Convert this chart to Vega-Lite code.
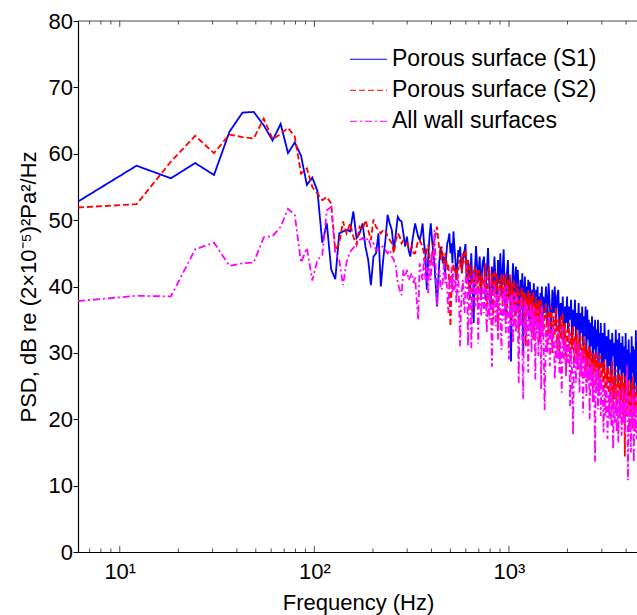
{
"$schema": "https://vega.github.io/schema/vega-lite/v6.json",
"width": 560, "height": 531,
"autosize": "none",
"padding": {"left": 78, "top": 21, "right": 0, "bottom": 63},
"background": "white",
"config": {
 "font": "Liberation Sans",
 "view": {"stroke": null},
 "axis": {"grid": false, "domainColor": "black", "domainWidth": 1.2, "tickColor": "black", "tickWidth": 1, "labelColor": "black", "titleColor": "black", "labelFont": "Liberation Sans", "titleFont": "Liberation Sans", "titleFontWeight": "normal", "labelFontSize": 22, "titleFontSize": 22},
 "legend": {"labelFont": "Liberation Sans", "labelFontSize": 23, "labelColor": "black", "labelLimit": 0}
},
"datasets": {
 "xt": [{"t":7,"m":0},{"t":8,"m":0},{"t":9,"m":0},{"t":10,"m":1},{"t":20,"m":0},{"t":30,"m":0},{"t":40,"m":0},{"t":50,"m":0},{"t":60,"m":0},{"t":70,"m":0},{"t":80,"m":0},{"t":90,"m":0},{"t":100,"m":1},{"t":200,"m":0},{"t":300,"m":0},{"t":400,"m":0},{"t":500,"m":0},{"t":600,"m":0},{"t":700,"m":0},{"t":800,"m":0},{"t":900,"m":0},{"t":1000,"m":1},{"t":2000,"m":0},{"t":3000,"m":0},{"t":4000,"m":0}],
 "psd": [
{"f":6.1,"a":52.8,"b":51.9,"c":37.8},
{"f":12.2,"a":58.2,"b":52.4,"c":38.6},
{"f":18.3,"a":56.3,"b":58.8,"c":38.5},
{"f":24.4,"a":58.6,"b":62.7,"c":45.6},
{"f":30.5,"a":56.8,"b":60.1,"c":46.6},
{"f":36.6,"a":63.3,"b":62.9,"c":43.1},
{"f":42.7,"a":66.2,"b":62.5,"c":43.5},
{"f":48.8,"a":66.3,"b":62.3,"c":43.6},
{"f":54.9,"a":64.3,"b":65.3,"c":47.4},
{"f":61.0,"a":62.0,"b":62.2,"c":47.6},
{"f":67.1,"a":64.5,"b":63.0,"c":49.0},
{"f":73.2,"a":60.1,"b":63.9,"c":51.7},
{"f":79.3,"a":61.7,"b":62.6,"c":50.8},
{"f":85.4,"a":59.7,"b":57.0,"c":43.6},
{"f":91.5,"a":55.3,"b":57.8,"c":45.8},
{"f":97.6,"a":56.4,"b":55.0,"c":40.9},
{"f":103.7,"a":54.4,"b":54.0,"c":44.0},
{"f":109.8,"a":46.6,"b":53.0,"c":44.7},
{"f":115.9,"a":49.5,"b":53.5,"c":51.5},
{"f":122.0,"a":42.6,"b":52.5,"c":52.0},
{"f":128.1,"a":41.1,"b":45.5,"c":45.0},
{"f":134.2,"a":48.0,"b":46.5,"c":44.0},
{"f":140.3,"a":48.3,"b":49.8,"c":40.2},
{"f":146.4,"a":48.5,"b":48.0,"c":43.7},
{"f":152.5,"a":48.3,"b":49.5,"c":45.2},
{"f":158.6,"a":51.3,"b":47.5,"c":45.8},
{"f":164.7,"a":47.3,"b":46.3,"c":46.3},
{"f":170.8,"a":48.0,"b":49.0,"c":47.0},
{"f":176.9,"a":49.5,"b":48.5,"c":47.3},
{"f":183.0,"a":46.0,"b":50.0,"c":46.8},
{"f":189.1,"a":44.0,"b":48.5,"c":47.3},
{"f":195.2,"a":40.2,"b":47.0,"c":46.0},
{"f":201.3,"a":44.5,"b":50.1,"c":46.5},
{"f":207.4,"a":45.0,"b":49.0,"c":45.5},
{"f":213.5,"a":48.0,"b":48.5,"c":45.5},
{"f":219.6,"a":40.0,"b":48.0,"c":46.0},
{"f":225.7,"a":44.0,"b":48.5,"c":46.0},
{"f":231.8,"a":47.0,"b":48.5,"c":45.5},
{"f":237.9,"a":50.8,"b":47.5,"c":45.0},
{"f":244.0,"a":49.5,"b":47.0,"c":45.5},
{"f":250.1,"a":48.5,"b":46.5,"c":44.5},
{"f":256.2,"a":45.5,"b":45.0,"c":44.0},
{"f":262.3,"a":48.0,"b":47.0,"c":43.0},
{"f":268.4,"a":50.5,"b":48.0,"c":40.5},
{"f":274.5,"a":50.0,"b":47.5,"c":39.5},
{"f":280.6,"a":49.8,"b":46.5,"c":38.7},
{"f":286.7,"a":48.0,"b":47.0,"c":42.5},
{"f":292.8,"a":46.0,"b":47.0,"c":41.5},
{"f":298.9,"a":47.5,"b":46.5,"c":42.5},
{"f":305.0,"a":45.5,"b":46.0,"c":41.0},
{"f":311.1,"a":44.5,"b":45.5,"c":41.5},
{"f":317.2,"a":46.5,"b":46.0,"c":42.0},
{"f":323.3,"a":48.0,"b":45.0,"c":40.5},
{"f":329.4,"a":49.5,"b":45.0,"c":41.5},
{"f":335.5,"a":48.5,"b":46.0,"c":38.0},
{"f":341.6,"a":47.5,"b":47.0,"c":35.0},
{"f":347.7,"a":47.0,"b":47.0,"c":43.5},
{"f":353.8,"a":48.0,"b":46.5,"c":42.0},
{"f":359.9,"a":49.5,"b":46.0,"c":41.0},
{"f":366.0,"a":46.5,"b":45.0,"c":44.5},
{"f":372.1,"a":45.0,"b":44.0,"c":41.0},
{"f":378.2,"a":39.5,"b":45.5,"c":43.0},
{"f":384.3,"a":44.0,"b":46.3,"c":39.0},
{"f":390.4,"a":47.5,"b":44.5,"c":44.0},
{"f":396.5,"a":49.5,"b":43.5,"c":41.0},
{"f":402.6,"a":47.0,"b":45.0,"c":45.0},
{"f":408.7,"a":45.0,"b":46.0,"c":43.0},
{"f":414.8,"a":43.0,"b":47.3,"c":48.5},
{"f":420.9,"a":40.0,"b":48.0,"c":42.0},
{"f":427.0,"a":37.0,"b":49.0,"c":37.0},
{"f":433.1,"a":41.0,"b":47.0,"c":40.0},
{"f":439.2,"a":44.0,"b":45.5,"c":42.5},
{"f":445.3,"a":46.0,"b":44.0,"c":40.0},
{"f":451.4,"a":45.0,"b":46.0,"c":39.5},
{"f":457.5,"a":43.5,"b":44.5,"c":41.0},
{"f":463.6,"a":44.5,"b":43.0,"c":43.5},
{"f":469.7,"a":42.0,"b":45.0,"c":40.5},
{"f":475.8,"a":44.5,"b":44.0,"c":42.0},
{"f":481.9,"a":46.5,"b":42.5,"c":39.0},
{"f":488.0,"a":47.0,"b":43.5,"c":36.0},
{"f":494.1,"a":48.0,"b":40.0,"c":41.0},
{"f":500.2,"a":45.0,"b":34.0,"c":40.0},
{"f":506.3,"a":46.5,"b":39.0,"c":43.0},
{"f":512.4,"a":43.5,"b":42.0,"c":39.0},
{"f":518.5,"a":48.3,"b":43.5,"c":42.0},
{"f":524.6,"a":46.0,"b":42.0,"c":39.5},
{"f":530.7,"a":44.0,"b":42.5,"c":41.0},
{"f":536.8,"a":41.0,"b":41.0,"c":37.5},
{"f":542.9,"a":43.0,"b":43.0,"c":40.5},
{"f":549.0,"a":45.5,"b":42.5,"c":42.0},
{"f":555.1,"a":44.5,"b":44.0,"c":36.5},
{"f":561.2,"a":46.0,"b":43.0,"c":31.0},
{"f":567.3,"a":43.5,"b":44.5,"c":37.0},
{"f":573.4,"a":42.0,"b":42.0,"c":39.5},
{"f":579.5,"a":44.0,"b":45.0,"c":41.0},
{"f":585.6,"a":45.0,"b":43.5,"c":38.0},
{"f":591.7,"a":45.5,"b":45.0,"c":36.0},
{"f":597.8,"a":46.4,"b":45.5,"c":40.0},
{"f":603.9,"a":42.0,"b":43.0,"c":43.2},
{"f":610.0,"a":40.5,"b":41.0,"c":40.0},
{"f":616.1,"a":44.0,"b":44.0,"c":31.0},
{"f":622.2,"a":43.0,"b":39.5,"c":38.5},
{"f":628.3,"a":38.0,"b":42.0,"c":41.5},
{"f":634.4,"a":42.5,"b":43.2,"c":39.0},
{"f":640.5,"a":45.0,"b":41.0,"c":30.7},
{"f":646.6,"a":41.0,"b":36.0,"c":36.0},
{"f":652.7,"a":39.0,"b":40.5,"c":40.0},
{"f":658.8,"a":34.5,"b":42.0,"c":42.0},
{"f":664.9,"a":40.0,"b":43.0,"c":38.5},
{"f":671.0,"a":43.5,"b":41.5,"c":37.0},
{"f":677.1,"a":46.1,"b":40.0,"c":40.5},
{"f":683.2,"a":44.0,"b":42.5,"c":41.5},
{"f":689.3,"a":42.0,"b":37.5,"c":38.0},
{"f":695.4,"a":40.5,"b":41.0,"c":31.4},
{"f":701.5,"a":43.0,"b":42.5,"c":37.5},
{"f":707.6,"a":44.5,"b":40.0,"c":40.0},
{"f":713.7,"a":41.0,"b":41.5,"c":39.0},
{"f":719.8,"a":38.0,"b":39.0,"c":35.5},
{"f":725.9,"a":42.0,"b":42.0,"c":38.5},
{"f":732.0,"a":43.5,"b":41.0,"c":40.5},
{"f":744.2,"a":44.5,"b":40.0,"c":36.0},
{"f":756.4,"a":38.0,"b":43.5,"c":41.5},
{"f":768.6,"a":42.0,"b":36.5,"c":33.0},
{"f":780.8,"a":45.8,"b":41.0,"c":39.5},
{"f":793.0,"a":40.0,"b":43.0,"c":35.0},
{"f":805.2,"a":36.5,"b":38.0,"c":41.0},
{"f":817.4,"a":43.0,"b":42.0,"c":27.9},
{"f":829.6,"a":39.0,"b":35.0,"c":37.5},
{"f":841.8,"a":44.5,"b":42.5,"c":40.5},
{"f":854.0,"a":41.0,"b":39.0,"c":34.0},
{"f":866.2,"a":37.0,"b":42.0,"c":39.0},
{"f":878.4,"a":44.0,"b":33.5,"c":32.0},
{"f":890.6,"a":40.5,"b":41.0,"c":40.0},
{"f":902.8,"a":45.0,"b":38.5,"c":36.0},
{"f":915.0,"a":38.5,"b":42.0,"c":30.5},
{"f":927.2,"a":42.5,"b":37.0,"c":39.5},
{"f":939.4,"a":45.6,"b":41.5,"c":35.0},
{"f":951.6,"a":39.0,"b":39.0,"c":40.0},
{"f":963.8,"a":35.0,"b":42.0,"c":33.0},
{"f":976.0,"a":42.0,"b":36.0,"c":40.2},
{"f":988.2,"a":44.0,"b":41.0,"c":36.5},
{"f":1000.4,"a":38.0,"b":38.0,"c":29.0},
{"f":1012.6,"a":41.5,"b":41.8,"c":38.5},
{"f":1024.8,"a":28.7,"b":35.0,"c":34.0},
{"f":1037.0,"a":40.0,"b":40.5,"c":39.0},
{"f":1049.2,"a":43.5,"b":37.0,"c":31.5},
{"f":1061.4,"a":37.5,"b":41.0,"c":37.0},
{"f":1073.6,"a":41.0,"b":34.0,"c":39.0},
{"f":1085.8,"a":43.0,"b":40.0,"c":33.0},
{"f":1098.0,"a":36.0,"b":37.5,"c":38.5},
{"f":1110.2,"a":42.5,"b":40.5,"c":35.5},
{"f":1122.4,"a":39.0,"b":33.0,"c":25.5},
{"f":1134.6,"a":34.0,"b":39.0,"c":37.0},
{"f":1146.8,"a":41.0,"b":36.5,"c":34.0},
{"f":1159.0,"a":38.0,"b":40.0,"c":38.5},
{"f":1171.2,"a":42.0,"b":37.0,"c":31.0},
{"f":1183.4,"a":30.0,"b":39.5,"c":23.1},
{"f":1195.6,"a":39.5,"b":35.0,"c":36.0},
{"f":1207.8,"a":41.5,"b":39.0,"c":38.0},
{"f":1220.0,"a":36.0,"b":31.0,"c":32.5},
{"f":1232.2,"a":40.0,"b":38.5,"c":37.5},
{"f":1244.4,"a":37.5,"b":35.5,"c":34.0},
{"f":1256.6,"a":41.0,"b":39.5,"c":27.0},
{"f":1268.8,"a":35.0,"b":36.0,"c":36.5},
{"f":1281.0,"a":40.7,"b":39.0,"c":33.5},
{"f":1293.2,"a":38.0,"b":34.0,"c":37.5},
{"f":1305.4,"a":33.0,"b":38.5,"c":30.0},
{"f":1317.6,"a":39.5,"b":36.0,"c":36.0},
{"f":1329.8,"a":36.5,"b":39.2,"c":32.0},
{"f":1342.0,"a":40.5,"b":32.0,"c":37.0},
{"f":1354.2,"a":37.0,"b":37.5,"c":34.5},
{"f":1366.4,"a":34.0,"b":35.0,"c":26.0},
{"f":1378.6,"a":39.5,"b":38.5,"c":35.5},
{"f":1390.8,"a":36.0,"b":33.5,"c":33.0},
{"f":1403.0,"a":40.0,"b":37.5,"c":36.5},
{"f":1415.2,"a":35.5,"b":34.5,"c":29.5},
{"f":1427.4,"a":38.5,"b":38.0,"c":35.0},
{"f":1439.6,"a":32.0,"b":31.5,"c":32.5},
{"f":1451.8,"a":39.0,"b":36.0,"c":36.0},
{"f":1464.0,"a":36.5,"b":38.0,"c":24.5},
{"f":1476.2,"a":40.0,"b":34.0,"c":37.0},
{"f":1488.4,"a":35.0,"b":36.5,"c":33.0},
{"f":1500.6,"a":38.5,"b":32.5,"c":35.5},
{"f":1525.0,"a":36.0,"b":35.0,"c":21.4},
{"f":1549.4,"a":40.0,"b":37.5,"c":34.0},
{"f":1573.8,"a":34.5,"b":31.0,"c":30.0},
{"f":1598.2,"a":40.5,"b":36.5,"c":35.5},
{"f":1622.6,"a":37.0,"b":33.0,"c":28.0},
{"f":1647.0,"a":33.0,"b":37.0,"c":33.5},
{"f":1671.4,"a":39.5,"b":30.0,"c":30.5},
{"f":1695.8,"a":36.0,"b":35.5,"c":34.5},
{"f":1720.2,"a":40.0,"b":32.5,"c":26.0},
{"f":1744.6,"a":34.0,"b":36.8,"c":32.0},
{"f":1769.0,"a":38.5,"b":31.0,"c":29.0},
{"f":1793.4,"a":39.5,"b":35.0,"c":33.5},
{"f":1817.8,"a":33.0,"b":29.0,"c":27.0},
{"f":1842.2,"a":37.5,"b":35.5,"c":31.5},
{"f":1866.6,"a":35.0,"b":32.0,"c":24.0},
{"f":1891.0,"a":38.5,"b":36.0,"c":34.0},
{"f":1915.4,"a":31.0,"b":30.5,"c":29.0},
{"f":1939.8,"a":37.0,"b":34.5,"c":32.0},
{"f":1964.2,"a":34.5,"b":27.0,"c":26.5},
{"f":1988.6,"a":38.5,"b":33.5,"c":31.0},
{"f":2013.0,"a":33.0,"b":30.0,"c":28.5},
{"f":2037.4,"a":37.0,"b":34.5,"c":33.0},
{"f":2061.8,"a":35.0,"b":29.0,"c":22.0},
{"f":2086.2,"a":38.0,"b":33.0,"c":30.5},
{"f":2110.6,"a":31.5,"b":30.5,"c":27.0},
{"f":2135.0,"a":36.5,"b":34.0,"c":17.6},
{"f":2159.4,"a":34.0,"b":28.5,"c":29.5},
{"f":2183.8,"a":38.0,"b":32.5,"c":32.0},
{"f":2208.2,"a":32.0,"b":29.0,"c":25.5},
{"f":2232.6,"a":36.0,"b":33.5,"c":30.0},
{"f":2257.0,"a":33.5,"b":27.5,"c":27.5},
{"f":2281.4,"a":37.5,"b":32.0,"c":31.5},
{"f":2305.8,"a":30.5,"b":29.5,"c":24.0},
{"f":2330.2,"a":36.0,"b":33.0,"c":30.0},
{"f":2354.6,"a":33.0,"b":26.5,"c":27.0},
{"f":2379.0,"a":37.0,"b":31.0,"c":30.5},
{"f":2403.4,"a":31.0,"b":28.5,"c":21.0},
{"f":2427.8,"a":35.5,"b":32.5,"c":29.0},
{"f":2452.2,"a":32.5,"b":27.0,"c":26.0},
{"f":2476.6,"a":37.0,"b":31.5,"c":29.5},
{"f":2501.0,"a":30.0,"b":25.5,"c":23.5},
{"f":2525.4,"a":36.5,"b":30.5,"c":28.0},
{"f":2549.8,"a":32.0,"b":28.0,"c":25.5},
{"f":2574.2,"a":35.0,"b":31.0,"c":29.0},
{"f":2598.6,"a":29.5,"b":26.0,"c":20.0},
{"f":2623.0,"a":34.5,"b":30.5,"c":28.0},
{"f":2647.4,"a":31.0,"b":27.5,"c":25.0},
{"f":2671.8,"a":35.5,"b":30.0,"c":28.5},
{"f":2696.2,"a":28.5,"b":24.5,"c":22.5},
{"f":2720.6,"a":34.0,"b":29.5,"c":27.0},
{"f":2745.0,"a":30.5,"b":27.0,"c":24.5},
{"f":2769.4,"a":35.0,"b":30.0,"c":13.6},
{"f":2793.8,"a":29.0,"b":25.0,"c":27.5},
{"f":2818.2,"a":33.5,"b":29.0,"c":24.0},
{"f":2842.6,"a":31.0,"b":26.5,"c":28.0},
{"f":2867.0,"a":35.0,"b":30.0,"c":21.5},
{"f":2891.4,"a":27.5,"b":24.0,"c":26.5},
{"f":2915.8,"a":33.0,"b":28.5,"c":23.5},
{"f":2940.2,"a":30.0,"b":26.0,"c":27.5},
{"f":2964.6,"a":34.5,"b":29.5,"c":20.5},
{"f":2989.0,"a":28.0,"b":25.5,"c":26.0},
{"f":3025.6,"a":33.0,"b":28.5,"c":25.0},
{"f":3062.2,"a":27.0,"b":24.0,"c":18.0},
{"f":3098.8,"a":34.5,"b":29.0,"c":24.5},
{"f":3135.4,"a":29.0,"b":22.5,"c":20.5},
{"f":3172.0,"a":32.5,"b":27.5,"c":26.0},
{"f":3208.6,"a":26.0,"b":24.5,"c":17.0},
{"f":3245.2,"a":33.5,"b":28.0,"c":23.5},
{"f":3281.8,"a":28.0,"b":21.5,"c":20.0},
{"f":3318.4,"a":32.0,"b":27.0,"c":25.5},
{"f":3355.0,"a":25.5,"b":23.5,"c":19.0},
{"f":3391.6,"a":33.0,"b":28.8,"c":24.0},
{"f":3428.2,"a":29.5,"b":22.0,"c":15.5},
{"f":3464.8,"a":31.5,"b":26.5,"c":22.5},
{"f":3501.4,"a":24.5,"b":23.0,"c":19.5},
{"f":3538.0,"a":33.5,"b":27.5,"c":25.0},
{"f":3574.6,"a":28.0,"b":21.0,"c":18.0},
{"f":3611.2,"a":32.0,"b":26.0,"c":23.0},
{"f":3647.8,"a":25.0,"b":22.5,"c":16.5},
{"f":3684.4,"a":33.0,"b":27.0,"c":24.5},
{"f":3721.0,"a":27.5,"b":20.5,"c":20.0},
{"f":3757.6,"a":31.5,"b":26.5,"c":23.0},
{"f":3794.2,"a":24.0,"b":22.0,"c":17.5},
{"f":3830.8,"a":32.5,"b":27.0,"c":25.0},
{"f":3867.4,"a":27.0,"b":19.5,"c":19.5},
{"f":3904.0,"a":31.0,"b":25.5,"c":22.5},
{"f":3940.6,"a":24.0,"b":14.4,"c":18.0},
{"f":3977.2,"a":33.0,"b":26.5,"c":24.0},
{"f":4013.8,"a":26.5,"b":20.5,"c":20.5},
{"f":4050.4,"a":30.5,"b":25.0,"c":28.2},
{"f":4087.0,"a":23.5,"b":21.5,"c":10.8},
{"f":4123.6,"a":32.0,"b":26.0,"c":21.0},
{"f":4160.2,"a":26.0,"b":19.0,"c":17.5},
{"f":4196.8,"a":30.0,"b":24.5,"c":23.5},
{"f":4233.4,"a":23.0,"b":20.5,"c":15.0},
{"f":4270.0,"a":32.5,"b":25.5,"c":22.0},
{"f":4306.6,"a":27.0,"b":18.5,"c":19.0},
{"f":4343.2,"a":31.0,"b":26.5,"c":24.5},
{"f":4379.8,"a":22.5,"b":21.0,"c":13.5},
{"f":4416.4,"a":30.5,"b":24.0,"c":21.5},
{"f":4453.0,"a":25.5,"b":19.5,"c":18.0},
{"f":4489.6,"a":33.4,"b":25.0,"c":23.5},
{"f":4526.2,"a":24.0,"b":21.0,"c":17.0},
{"f":4562.8,"a":29.0,"b":23.5,"c":21.0},
{"f":4599.4,"a":32.0,"b":24.5,"c":22.5}
 ]
},
"layer": [
 {
  "data": {"name": "psd"},
  "mark": {"type": "line", "strokeWidth": 1.8, "clip": true},
  "encoding": {
   "x": {"field": "f", "type": "quantitative", "scale": {"type": "log", "domain": [6.1, 4604], "nice": false},
         "axis": {"orient": "bottom", "values": [10, 100, 1000], "ticks": false,
                  "labelExpr": "datum.value==10?'10¹':datum.value==100?'10²':datum.value==1000?'10³':''",
                  "title": "Frequency (Hz)", "labelPadding": 9, "titlePadding": 10, "labelOverlap": false, "labelFlush": false}},
   "y": {"field": "a", "type": "quantitative", "scale": {"domain": [0, 80], "nice": false},
         "axis": {"values": [0,10,20,30,40,50,60,70,80], "title": "PSD, dB re (2×10⁻⁵)²Pa²/Hz", "tickSize": 5, "labelPadding": 0.5, "titlePadding": 8}},
   "color": {"datum": "Porous surface (S1)", "type": "nominal",
             "scale": {"domain": ["Porous surface (S1)", "Porous surface (S2)", "All wall surfaces"], "range": ["#0000ff", "#ff0000", "#ff00ff"]},
             "legend": {"title": null, "orient": "none", "legendX": 271, "legendY": 23, "padding": 0, "symbolType": "stroke", "symbolSize": 1369, "symbolStrokeWidth": 1.2, "labelOffset": 4, "rowPadding": 0, "clipHeight": 30.5, "labelFontSize": 23, "labelLimit": 0}},
   "strokeDash": {"datum": "Porous surface (S1)", "type": "nominal",
             "scale": {"domain": ["Porous surface (S1)", "Porous surface (S2)", "All wall surfaces"], "range": [[1,0],[6,3],[7,3,2,3]]},
             "legend": {"title": null, "orient": "none", "legendX": 271, "legendY": 23, "padding": 0, "symbolType": "stroke", "symbolSize": 1369, "symbolStrokeWidth": 1.2, "labelOffset": 4, "rowPadding": 0, "clipHeight": 30.5, "labelFontSize": 23, "labelLimit": 0}}
  }
 },
 {
  "data": {"name": "psd"},
  "mark": {"type": "line", "strokeWidth": 1.8, "clip": true},
  "encoding": {
   "x": {"field": "f", "type": "quantitative", "scale": {"type": "log", "domain": [6.1, 4604], "nice": false}},
   "y": {"field": "b", "type": "quantitative", "scale": {"domain": [0, 80], "nice": false}},
   "color": {"datum": "Porous surface (S2)", "type": "nominal"},
   "strokeDash": {"datum": "Porous surface (S2)", "type": "nominal"}
  }
 },
 {
  "data": {"name": "psd"},
  "mark": {"type": "line", "strokeWidth": 1.8, "clip": true},
  "encoding": {
   "x": {"field": "f", "type": "quantitative", "scale": {"type": "log", "domain": [6.1, 4604], "nice": false}},
   "y": {"field": "c", "type": "quantitative", "scale": {"domain": [0, 80], "nice": false}},
   "color": {"datum": "All wall surfaces", "type": "nominal"},
   "strokeDash": {"datum": "All wall surfaces", "type": "nominal"}
  }
 },
 {
  "data": {"name": "xt"},
  "mark": {"type": "tick", "orient": "vertical", "color": "black", "thickness": 1, "clip": true},
  "encoding": {
   "x": {"field": "t", "type": "quantitative", "scale": {"type": "log", "domain": [6.1, 4604], "nice": false}},
   "y": {"datum": 0, "type": "quantitative"},
   "size": {"field": "m", "type": "quantitative", "scale": {"domain": [0, 1], "range": [7, 12]}, "legend": null}
  }
 },
 {
  "data": {"name": "xt"},
  "mark": {"type": "tick", "orient": "vertical", "color": "black", "thickness": 1, "clip": true},
  "encoding": {
   "x": {"field": "t", "type": "quantitative", "scale": {"type": "log", "domain": [6.1, 4604], "nice": false}},
   "y": {"datum": 80, "type": "quantitative"},
   "size": {"field": "m", "type": "quantitative", "scale": {"domain": [0, 1], "range": [7, 12]}, "legend": null}
  }
 },
 {
  "data": {"values": [{"t": 167.6}]},
  "mark": {"type": "tick", "orient": "horizontal", "color": "black", "thickness": 1.2, "size": 560},
  "encoding": {
   "x": {"field": "t", "type": "quantitative", "scale": {"type": "log", "domain": [6.1, 4604], "nice": false}},
   "y": {"datum": 80, "type": "quantitative"}
  }
 }
]
}
